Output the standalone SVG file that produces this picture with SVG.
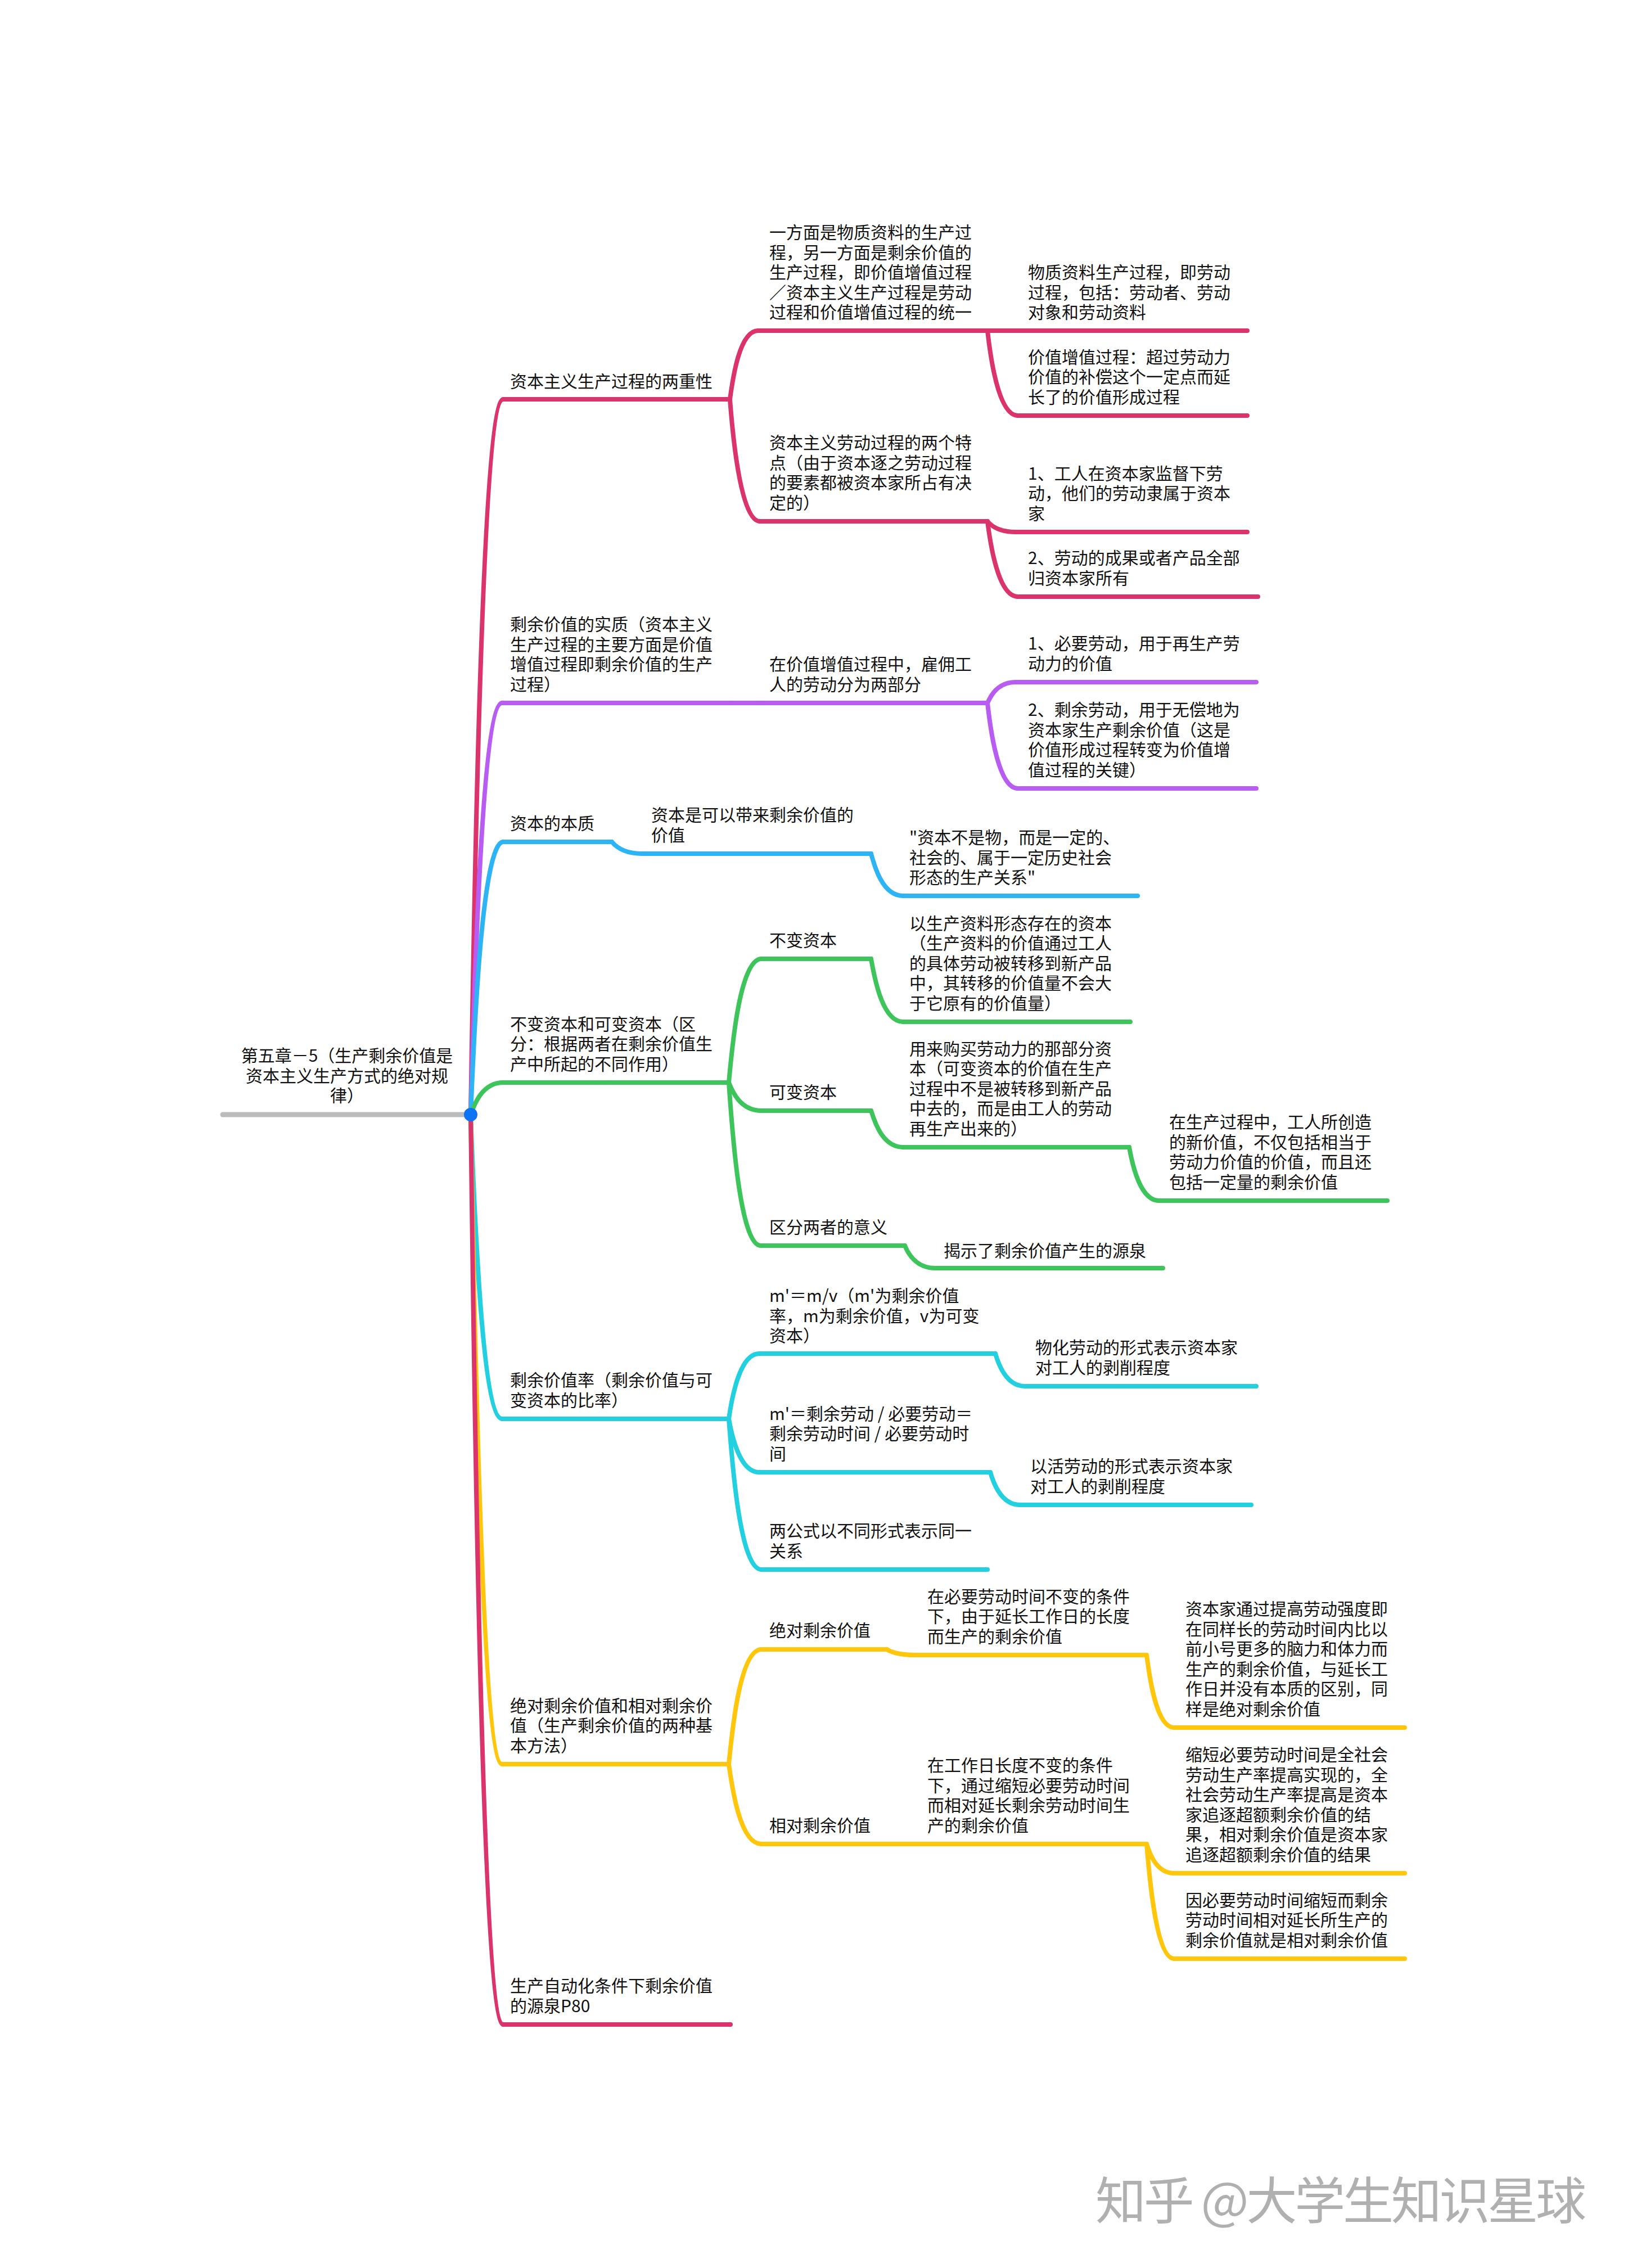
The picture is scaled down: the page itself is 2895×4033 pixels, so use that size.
<svg xmlns="http://www.w3.org/2000/svg" width="2895" height="4033" viewBox="0 0 2895 4033">
<style>
text{font-family:"Noto Sans CJK SC","Noto Sans",sans-serif;font-size:30px;fill:#111}
.ln{fill:none;stroke-width:8;stroke-linecap:round;stroke-linejoin:round}
.pk{stroke:#DB346D}.pu{stroke:#B85CF2}.bl{stroke:#2CB4F5}.gr{stroke:#3DC45A}.cy{stroke:#23D0E0}.ye{stroke:#FFC60B}
.wm{font-size:90px;fill:#B0B0B0}
</style>
<rect width="2895" height="4033" fill="#fff"/>
<g id="connectors">
<path class="ln pk" d="M837,1982 C843,1600 857,710 895,710"/>
<path class="ln pu" d="M837,1982 C843,1762 857,1250 893,1250"/>
<path class="ln bl" d="M837,1982 C843,1836 857,1497 895,1497"/>
<path class="ln gr" d="M837,1982 C843,1965 857,1925 895,1925"/>
<path class="ln cy" d="M837,1982 C843,2144 857,2523 893,2523"/>
<path class="ln ye" d="M837,1982 C843,2328 857,3137 893,3137"/>
<path class="ln pk" d="M837,1982 C843,2467 857,3600 895,3600"/>
<path class="ln pk" d="M1298,710 C1303,673 1315,588 1348,588"/>
<path class="ln pk" d="M1298,710 C1303,775 1317,927 1351,927"/>
<path class="ln pk" d="M1756,588 L1810,588"/>
<path class="ln pk" d="M1756,588 C1761,633 1775,739 1810,739"/>
<path class="ln pk" d="M1756,927 C1761,933 1773,946 1806,946"/>
<path class="ln pk" d="M1756,927 C1761,967 1775,1061 1810,1061"/>
<path class="ln pu" d="M1298,1250 L1354,1250"/>
<path class="ln pu" d="M1756,1250 C1761,1239 1773,1213 1806,1213"/>
<path class="ln pu" d="M1756,1250 C1761,1296 1775,1402 1810,1402"/>
<path class="ln bl" d="M1088,1497 C1093,1503 1107,1518 1142,1518"/>
<path class="ln bl" d="M1549,1518 C1555,1540 1569,1593 1606,1593"/>
<path class="ln gr" d="M1296,1925 C1302,1859 1316,1705 1354,1705"/>
<path class="ln gr" d="M1549,1705 C1555,1739 1569,1817 1606,1817"/>
<path class="ln gr" d="M1296,1925 C1302,1940 1316,1975 1354,1975"/>
<path class="ln gr" d="M1549,1975 C1555,1994 1569,2040 1606,2040"/>
<path class="ln gr" d="M2008,2040 C2013,2068 2027,2135 2061,2135"/>
<path class="ln gr" d="M1296,1925 C1302,2012 1316,2215 1353,2215"/>
<path class="ln gr" d="M1609,2215 C1614,2227 1628,2255 1663,2255"/>
<path class="ln cy" d="M1296,2523 C1301,2488 1315,2407 1350,2407"/>
<path class="ln cy" d="M1770,2407 C1775,2424 1789,2465 1823,2465"/>
<path class="ln cy" d="M1296,2523 C1301,2551 1315,2618 1350,2618"/>
<path class="ln cy" d="M1761,2618 C1766,2635 1780,2676 1814,2676"/>
<path class="ln cy" d="M1296,2523 C1302,2603 1316,2791 1354,2791"/>
<path class="ln ye" d="M1296,3137 C1302,3076 1316,2933 1354,2933"/>
<path class="ln ye" d="M1577,2933 C1582,2936 1595,2943 1628,2943"/>
<path class="ln ye" d="M2039,2943 C2044,2982 2056,3072 2088,3072"/>
<path class="ln ye" d="M1296,3137 C1302,3180 1316,3279 1354,3279"/>
<path class="ln ye" d="M1577,3279 L1636,3279"/>
<path class="ln ye" d="M2039,3279 C2044,3295 2056,3331 2088,3331"/>
<path class="ln ye" d="M2039,3279 C2044,3340 2056,3483 2088,3483"/>
</g>
<g id="root">
<line x1="396" y1="1982" x2="837" y2="1982" stroke="#BBBBBB" stroke-width="9" stroke-linecap="round"/>
<text text-anchor="middle"><tspan x="617" y="1888">第五章－5（生产剩余价值是</tspan><tspan x="617" y="1924">资本主义生产方式的绝对规</tspan><tspan x="617" y="1959">律）</tspan></text>
<circle cx="837" cy="1982" r="12" fill="#0B73F4"/>
</g>
<g id="n1">
<path class="ln pk" d="M895,710 H1298"/>
<text><tspan x="907" y="689">资本主义生产过程的两重性</tspan></text>
</g>
<g id="n1a">
<path class="ln pk" d="M1348,588 H1756"/>
<text><tspan x="1368" y="424">一方面是物质资料的生产过</tspan><tspan x="1368" y="460">程，另一方面是剩余价值的</tspan><tspan x="1368" y="495">生产过程，即价值增值过程</tspan><tspan x="1368" y="531">／资本主义生产过程是劳动</tspan><tspan x="1368" y="566">过程和价值增值过程的统一</tspan></text>
</g>
<g id="n1a1">
<path class="ln pk" d="M1810,588 H2218"/>
<text><tspan x="1828" y="495">物质资料生产过程，即劳动</tspan><tspan x="1828" y="531">过程，包括：劳动者、劳动</tspan><tspan x="1828" y="566">对象和劳动资料</tspan></text>
</g>
<g id="n1a2">
<path class="ln pk" d="M1810,739 H2218"/>
<text><tspan x="1828" y="646">价值增值过程：超过劳动力</tspan><tspan x="1828" y="681">价值的补偿这个一定点而延</tspan><tspan x="1828" y="717">长了的价值形成过程</tspan></text>
</g>
<g id="n1b">
<path class="ln pk" d="M1351,927 H1756"/>
<text><tspan x="1368" y="798">资本主义劳动过程的两个特</tspan><tspan x="1368" y="834">点（由于资本逐之劳动过程</tspan><tspan x="1368" y="869">的要素都被资本家所占有决</tspan><tspan x="1368" y="905">定的）</tspan></text>
</g>
<g id="n1b1">
<path class="ln pk" d="M1806,946 H2218"/>
<text><tspan x="1828" y="853">1、工人在资本家监督下劳</tspan><tspan x="1828" y="888">动，他们的劳动隶属于资本</tspan><tspan x="1828" y="924">家</tspan></text>
</g>
<g id="n1b2">
<path class="ln pk" d="M1810,1061 H2237"/>
<text><tspan x="1828" y="1003">2、劳动的成果或者产品全部</tspan><tspan x="1828" y="1039">归资本家所有</tspan></text>
</g>
<g id="n2">
<path class="ln pu" d="M893,1250 H1298"/>
<text><tspan x="907" y="1121">剩余价值的实质（资本主义</tspan><tspan x="907" y="1157">生产过程的主要方面是价值</tspan><tspan x="907" y="1192">增值过程即剩余价值的生产</tspan><tspan x="907" y="1228">过程）</tspan></text>
</g>
<g id="n2a">
<path class="ln pu" d="M1354,1250 H1756"/>
<text><tspan x="1368" y="1192">在价值增值过程中，雇佣工</tspan><tspan x="1368" y="1228">人的劳动分为两部分</tspan></text>
</g>
<g id="n2a1">
<path class="ln pu" d="M1806,1213 H2234"/>
<text><tspan x="1828" y="1155">1、必要劳动，用于再生产劳</tspan><tspan x="1828" y="1191">动力的价值</tspan></text>
</g>
<g id="n2a2">
<path class="ln pu" d="M1810,1402 H2234"/>
<text><tspan x="1828" y="1273">2、剩余劳动，用于无偿地为</tspan><tspan x="1828" y="1309">资本家生产剩余价值（这是</tspan><tspan x="1828" y="1344">价值形成过程转变为价值增</tspan><tspan x="1828" y="1380">值过程的关键）</tspan></text>
</g>
<g id="n3">
<path class="ln bl" d="M895,1497 H1088"/>
<text><tspan x="907" y="1475">资本的本质</tspan></text>
</g>
<g id="n3a">
<path class="ln bl" d="M1142,1518 H1549"/>
<text><tspan x="1158" y="1460">资本是可以带来剩余价值的</tspan><tspan x="1158" y="1496">价值</tspan></text>
</g>
<g id="n3a1">
<path class="ln bl" d="M1606,1593 H2023"/>
<text><tspan x="1617" y="1500">"资本不是物，而是一定的、</tspan><tspan x="1617" y="1536">社会的、属于一定历史社会</tspan><tspan x="1617" y="1571">形态的生产关系"</tspan></text>
</g>
<g id="n4">
<path class="ln gr" d="M895,1925 H1296"/>
<text><tspan x="907" y="1832">不变资本和可变资本（区</tspan><tspan x="907" y="1867">分：根据两者在剩余价值生</tspan><tspan x="907" y="1903">产中所起的不同作用）</tspan></text>
</g>
<g id="n4a">
<path class="ln gr" d="M1354,1705 H1549"/>
<text><tspan x="1368" y="1683">不变资本</tspan></text>
</g>
<g id="n4a1">
<path class="ln gr" d="M1606,1817 H2010"/>
<text><tspan x="1617" y="1653">以生产资料形态存在的资本</tspan><tspan x="1617" y="1688">（生产资料的价值通过工人</tspan><tspan x="1617" y="1724">的具体劳动被转移到新产品</tspan><tspan x="1617" y="1759">中，其转移的价值量不会大</tspan><tspan x="1617" y="1795">于它原有的价值量）</tspan></text>
</g>
<g id="n4b">
<path class="ln gr" d="M1354,1975 H1549"/>
<text><tspan x="1368" y="1953">可变资本</tspan></text>
</g>
<g id="n4b1">
<path class="ln gr" d="M1606,2040 H2008"/>
<text><tspan x="1617" y="1876">用来购买劳动力的那部分资</tspan><tspan x="1617" y="1911">本（可变资本的价值在生产</tspan><tspan x="1617" y="1947">过程中不是被转移到新产品</tspan><tspan x="1617" y="1982">中去的，而是由工人的劳动</tspan><tspan x="1617" y="2018">再生产出来的）</tspan></text>
</g>
<g id="n4b1a">
<path class="ln gr" d="M2061,2135 H2467"/>
<text><tspan x="2079" y="2006">在生产过程中，工人所创造</tspan><tspan x="2079" y="2042">的新价值，不仅包括相当于</tspan><tspan x="2079" y="2077">劳动力价值的价值，而且还</tspan><tspan x="2079" y="2113">包括一定量的剩余价值</tspan></text>
</g>
<g id="n4c">
<path class="ln gr" d="M1353,2215 H1609"/>
<text><tspan x="1368" y="2193">区分两者的意义</tspan></text>
</g>
<g id="n4c1">
<path class="ln gr" d="M1663,2255 H2068"/>
<text><tspan x="1678" y="2235">揭示了剩余价值产生的源泉</tspan></text>
</g>
<g id="n5">
<path class="ln cy" d="M893,2523 H1296"/>
<text><tspan x="907" y="2465">剩余价值率（剩余价值与可</tspan><tspan x="907" y="2501">变资本的比率）</tspan></text>
</g>
<g id="n5a">
<path class="ln cy" d="M1350,2407 H1770"/>
<text><tspan x="1368" y="2315">m'＝m/v（m'为剩余价值</tspan><tspan x="1368" y="2351">率，m为剩余价值，v为可变</tspan><tspan x="1368" y="2386">资本）</tspan></text>
</g>
<g id="n5a1">
<path class="ln cy" d="M1823,2465 H2234"/>
<text><tspan x="1841" y="2407">物化劳动的形式表示资本家</tspan><tspan x="1841" y="2443">对工人的剥削程度</tspan></text>
</g>
<g id="n5b">
<path class="ln cy" d="M1350,2618 H1761"/>
<text><tspan x="1368" y="2525">m'＝剩余劳动 / 必要劳动＝</tspan><tspan x="1368" y="2560">剩余劳动时间 / 必要劳动时</tspan><tspan x="1368" y="2596">间</tspan></text>
</g>
<g id="n5b1">
<path class="ln cy" d="M1814,2676 H2225"/>
<text><tspan x="1832" y="2618">以活劳动的形式表示资本家</tspan><tspan x="1832" y="2654">对工人的剥削程度</tspan></text>
</g>
<g id="n5c">
<path class="ln cy" d="M1354,2791 H1756"/>
<text><tspan x="1368" y="2733">两公式以不同形式表示同一</tspan><tspan x="1368" y="2769">关系</tspan></text>
</g>
<g id="n6">
<path class="ln ye" d="M893,3137 H1296"/>
<text><tspan x="907" y="3044">绝对剩余价值和相对剩余价</tspan><tspan x="907" y="3079">值（生产剩余价值的两种基</tspan><tspan x="907" y="3115">本方法）</tspan></text>
</g>
<g id="n6a">
<path class="ln ye" d="M1354,2933 H1577"/>
<text><tspan x="1368" y="2910">绝对剩余价值</tspan></text>
</g>
<g id="n6a1">
<path class="ln ye" d="M1628,2943 H2039"/>
<text><tspan x="1649" y="2850">在必要劳动时间不变的条件</tspan><tspan x="1649" y="2885">下，由于延长工作日的长度</tspan><tspan x="1649" y="2921">而生产的剩余价值</tspan></text>
</g>
<g id="n6a1a">
<path class="ln ye" d="M2088,3072 H2498"/>
<text><tspan x="2108" y="2872">资本家通过提高劳动强度即</tspan><tspan x="2108" y="2908">在同样长的劳动时间内比以</tspan><tspan x="2108" y="2943">前小号更多的脑力和体力而</tspan><tspan x="2108" y="2979">生产的剩余价值，与延长工</tspan><tspan x="2108" y="3014">作日并没有本质的区别，同</tspan><tspan x="2108" y="3050">样是绝对剩余价值</tspan></text>
</g>
<g id="n6b">
<path class="ln ye" d="M1354,3279 H1577"/>
<text><tspan x="1368" y="3257">相对剩余价值</tspan></text>
</g>
<g id="n6b1">
<path class="ln ye" d="M1636,3279 H2039"/>
<text><tspan x="1649" y="3150">在工作日长度不变的条件</tspan><tspan x="1649" y="3186">下，通过缩短必要劳动时间</tspan><tspan x="1649" y="3221">而相对延长剩余劳动时间生</tspan><tspan x="1649" y="3257">产的剩余价值</tspan></text>
</g>
<g id="n6b1a">
<path class="ln ye" d="M2088,3331 H2498"/>
<text><tspan x="2108" y="3131">缩短必要劳动时间是全社会</tspan><tspan x="2108" y="3167">劳动生产率提高实现的，全</tspan><tspan x="2108" y="3202">社会劳动生产率提高是资本</tspan><tspan x="2108" y="3238">家追逐超额剩余价值的结</tspan><tspan x="2108" y="3273">果，相对剩余价值是资本家</tspan><tspan x="2108" y="3309">追逐超额剩余价值的结果</tspan></text>
</g>
<g id="n6b1b">
<path class="ln ye" d="M2088,3483 H2498"/>
<text><tspan x="2108" y="3390">因必要劳动时间缩短而剩余</tspan><tspan x="2108" y="3425">劳动时间相对延长所生产的</tspan><tspan x="2108" y="3461">剩余价值就是相对剩余价值</tspan></text>
</g>
<g id="n7">
<path class="ln pk" d="M895,3600 H1299"/>
<text><tspan x="907" y="3542">生产自动化条件下剩余价值</tspan><tspan x="907" y="3578">的源泉P80</tspan></text>
</g>
<g id="watermark">
<text class="wm" x="1948" y="3946" textLength="873" lengthAdjust="spacing">知乎 @大学生知识星球</text>
</g>
</svg>
